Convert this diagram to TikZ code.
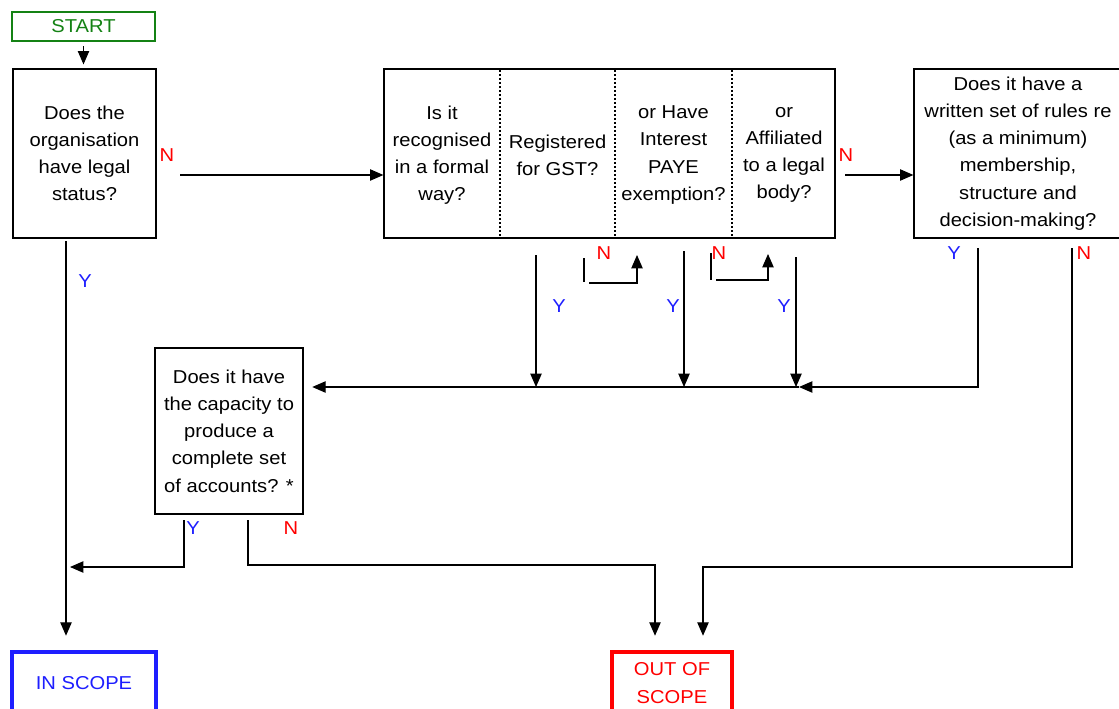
\documentclass[tikz,border=0pt]{standalone}
\usepackage{fontspec}
\setmainfont{Liberation Sans}[FakeStretch=1.08]
\usetikzlibrary{arrows.meta}
\definecolor{startgreen}{RGB}{20,130,20}
\definecolor{labblue}{RGB}{30,30,255}
\definecolor{labred}{RGB}{255,0,0}
\begin{document}
\begin{tikzpicture}[x=0.75pt,y=-0.75pt,
  every node/.style={font=\fontsize{14}{20.4}\selectfont, inner sep=0pt},
  box/.style n args={2}{draw, line width=0.9pt, minimum width=#1*0.75pt, minimum height=#2*0.75pt, align=center},
  txt/.style={align=center},
  arr/.style={-{Triangle[length=10pt,width=8.5pt]}, line width=0.8pt},
  ln/.style={line width=0.8pt},
  ylab/.style={text=labblue},
  nlab/.style={text=labred},
  divider/.style={dash pattern=on 1.5pt off 1.5pt, line width=1pt},
]
\useasboundingbox (0,0) rectangle (1119,709);

% boxes
\node[box={143}{29}, draw=startgreen, line width=2.2pt, text=startgreen] (start) at (83.5,26.5) {START};
\node[box={143}{169}] (q1) at (84.5,153.5) {Does the\\organisation\\have legal\\status?};
\node[box={451}{169}] (q2) at (609.5,153.5) {};
\node[box={208}{169}] (q3) at (1018,153.5) {Does it have a\\written set of rules re\\(as a minimum)\\membership,\\structure and\\decision-making?};
\node[box={148}{166}] (q4) at (229,431) {Does it have\\the capacity to\\produce a\\complete set\\of accounts? *};
\node[box={144}{62}, draw=labblue, line width=2.4pt, text=labblue] (inscope) at (84,683) {IN SCOPE};
\node[box={120}{62}, draw=labred, line width=2.4pt, text=labred] (outscope) at (672,683) {OUT OF\\SCOPE};

% box 2 columns
\draw[divider] (500,70) -- (500,237);
\draw[divider] (615,70) -- (615,237);
\draw[divider] (732,70) -- (732,237);
\node[txt] (c1) at (442,155) {Is it\\recognised\\in a formal\\way?};
\node[txt] (c2) at (557.5,155) {Registered\\for GST?};
\node[txt] (c3) at (673.5,155) {or Have\\Interest\\PAYE\\exemption?};
\node[txt] (c4) at (784,155) {or\\Affiliated\\to a legal\\body?};

% start -> q1
\draw[arr, shorten <=3pt, shorten >=3pt] (start.south) -- (start.south |- q1.north);

% q1 N -> q2
\coordinate (n1) at (180,175);
\draw[arr] (n1) -- (n1 -| q2.west);
\node[nlab] (n1l) at (167,155) {N};

% q2 N -> q3
\coordinate (n2) at (845,175);
\draw[arr] (n2) -- (n2 -| q3.west);
\node[nlab] (n2l) at (846,155) {N};

% q1 Y -> in scope
\coordinate (y1) at (66,241);
\draw[arr, shorten >=11pt] (y1) -- (y1 |- inscope.north);
\node[ylab] (y1l) at (85,281) {Y};

% main junction line into q4
\coordinate (jR) at (799,387);
\draw[arr, shorten >=6.5pt] (jR) -- (jR -| q4.east);

% q2 Y arrows
\coordinate (ya) at (536,255);
\draw[arr] (ya) -- (ya |- jR);
\node[ylab] (yal) at (559,306) {Y};
\coordinate (yb) at (684,251);
\draw[arr] (yb) -- (yb |- jR);
\node[ylab] (ybl) at (673,306) {Y};
\coordinate (yc) at (796,257);
\draw[arr] (yc) -- (yc |- jR);
\node[ylab] (ycl) at (784,306) {Y};

% N loops in q2
\coordinate (na0) at (584,258);
\coordinate (na1) at (584,282);
\draw[ln] (na0) -- (na1);
\coordinate (na2) at (589,283);
\coordinate (na3) at (637,255);
\draw[arr] (na2) -| (na3);
\node[nlab] (nal) at (604,253) {N};
\coordinate (nb0) at (711,253);
\coordinate (nb1) at (711,280);
\draw[ln] (nb0) -- (nb1);
\coordinate (nb2) at (716,280);
\coordinate (nb3) at (768,254);
\draw[arr] (nb2) -| (nb3);
\node[nlab] (nbl) at (719,253) {N};

% q3 Y -> junction
\coordinate (y3) at (978,248);
\draw[arr] (y3) |- (jR);
\node[ylab] (y3l) at (954,253) {Y};

% q3 N -> out of scope
\coordinate (n3) at (1072,248);
\coordinate (n3k) at (703,567);
\draw[arr, shorten >=11pt] (n3) |- (n3k) -- (n3k |- outscope.north);
\node[nlab] (n3l) at (1084,253) {N};

% q4 Y -> in scope line
\coordinate (y4) at (184,520);
\coordinate (y4e) at (70,567);
\draw[arr] (y4) |- (y4e);
\node[ylab] (y4l) at (193,528) {Y};

% q4 N -> out of scope
\coordinate (n4) at (248,520);
\coordinate (n4k) at (655,565);
\draw[arr, shorten >=11pt] (n4) |- (n4k) -- (n4k |- outscope.north);
\node[nlab] (n4l) at (291,528) {N};
\end{tikzpicture}
\end{document}
